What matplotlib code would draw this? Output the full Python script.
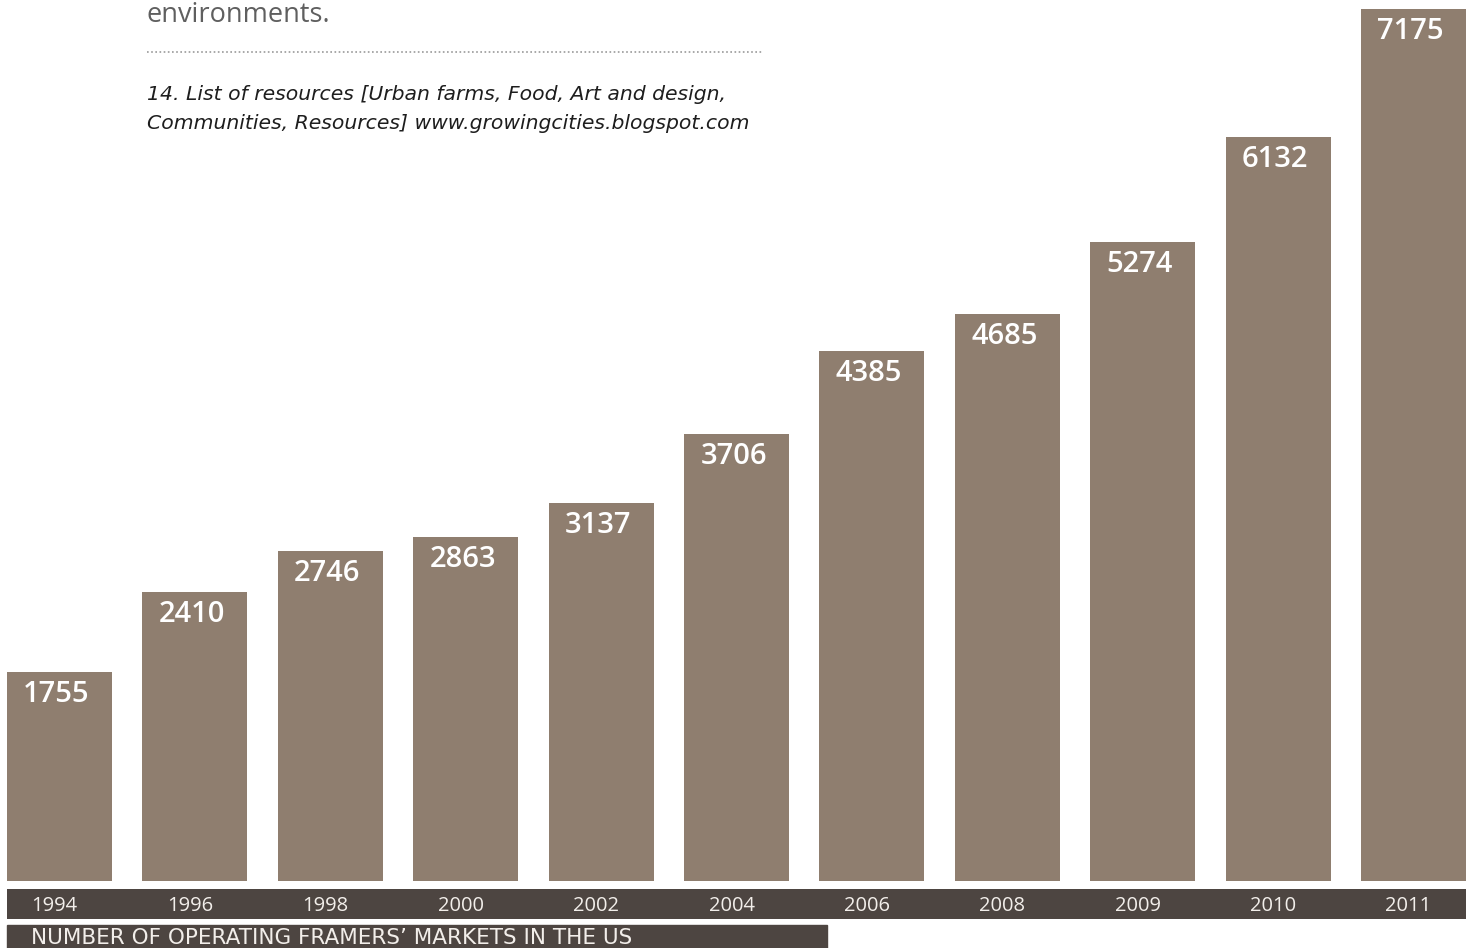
import matplotlib.pyplot as plt
from matplotlib.lines import Line2D
from matplotlib.patches import Rectangle

years = ["1994", "1996", "1998", "2000", "2002", "2004", "2006", "2008", "2009", "2010", "2011"]
markets = [1755, 2410, 2746, 2863, 3137, 3706, 4385, 4685, 5274, 6132, 7175]

caption = "NUMBER OF OPERATING FRAMERS\u2019 MARKETS IN THE US"
intro_tail = "environments."
note_lines = ["14. List of resources [Urban farms, Food, Art and design,",
              "Communities, Resources] www.growingcities.blogspot.com"]

bar_color = "#8f7e6f"
strip_color = "#4d4541"

plt.rcParams["font.family"] = ["Open Sans", "DejaVu Sans"]

W, H = 1473, 948
fig = plt.figure(figsize=(W / 100, H / 100), dpi=100)

def fx(px):
    return px / W

def fy(py):
    return 1 - py / H

xl = (-0.388, 10.388)
x = list(range(len(years)))

# main bars
ax = fig.add_axes([fx(7), fy(881), fx(1466) - fx(7), 881 / H])
ax.bar(x, markets, width=0.775, color=bar_color)
ax.set_xlim(*xl)
ax.set_ylim(49, 7251)
ax.axis("off")
for xi, v in zip(x, markets):
    ax.annotate(str(v), (xi, v), xytext=(-3, -8), textcoords="offset pixels",
                ha="center", va="top", color="white", fontsize=21, fontweight="semibold")

# year strip
sx = fig.add_axes([fx(7), fy(919), fx(1466) - fx(7), 30 / H])
sx.set_facecolor(strip_color)
sx.set_xlim(*xl)
sx.set_ylim(0, 1)
sx.set_xticks([])
sx.set_yticks([])
for s in sx.spines.values():
    s.set_visible(False)
for xi, yr in zip(x, years):
    sx.annotate(yr, (xi, 0.5), xytext=(-5, -2), textcoords="offset pixels",
                ha="center", va="center", color="#f2eeea", fontsize=14.5)

# caption strip
fig.add_artist(Rectangle((fx(7), 0), fx(827) - fx(7), 23 / H,
                         transform=fig.transFigure, color=strip_color))
fig.text(fx(31), fy(944), caption, ha="left", va="baseline",
         color="#f2eeea", fontsize=15.5, family="DejaVu Sans")

# text above
fig.text(fx(147), fy(22), intro_tail, ha="left", va="baseline",
         color="#5f5f5f", fontsize=19.5)
fig.add_artist(Line2D([fx(147), fx(763)], [fy(52), fy(52)], transform=fig.transFigure,
                      color="#9a9a9a", linewidth=1.2, linestyle=(0, (1, 1.5))))
for i, line in enumerate(note_lines):
    fig.text(fx(147), fy(100 + 29 * i), line, ha="left", va="baseline",
             color="#1e1e1e", fontsize=14.7, style="italic", family="DejaVu Sans")

fig.savefig("out.png", dpi=100)
